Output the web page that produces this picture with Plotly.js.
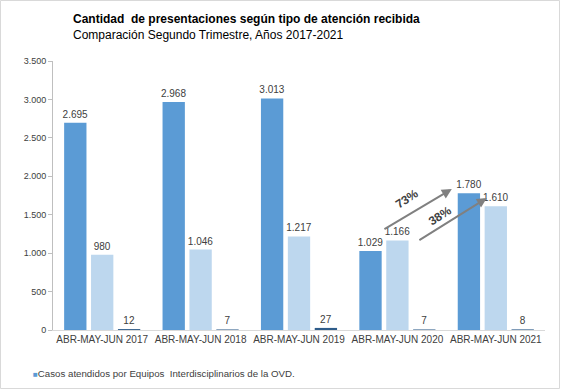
<!DOCTYPE html>
<html><head><meta charset="utf-8">
<script src="https://cdn.plot.ly/plotly-3.0.1.min.js"></script>
<style>body{margin:0;padding:0;background:#fff}#c{width:561px;height:389px}</style>
</head><body><div id="c"></div>
<script>
var categories = ["ABR-MAY-JUN 2017","ABR-MAY-JUN 2018","ABR-MAY-JUN 2019","ABR-MAY-JUN 2020","ABR-MAY-JUN 2021"];
var casosOVD = [2695, 2968, 3013, 1029, 1780];
var serie2 = [980, 1046, 1217, 1166, 1610];
var serie3 = [12, 7, 27, 7, 8];
var yTicks = [0,500,1000,1500,2000,2500,3000,3500];
var pctLabels = ["73%","38%"];
var legendName = "Casos atendidos por Equipos  Interdisciplinarios de la OVD.";

var FF = "Liberation Sans, Arial, sans-serif";
var txtFont = {family:FF, size:10, color:"#404040"};
function bar(name, y, color){
  return {type:"bar", name:name, x:categories, y:y, marker:{color:color},
    text:y.map(function(v){return v.toLocaleString("de-DE");}), textposition:"outside",
    textfont:txtFont, constraintext:"none", cliponaxis:false, showlegend:false, hoverinfo:"skip"};
}
var data = [
  bar(legendName, casosOVD, "#5B9BD5"),
  bar("Serie 2", serie2, "#BDD7EE"),
  bar("Serie 3", serie3, "#2E5C8A")
];
var layout = {
  width:561, height:389, separators:",.",
  margin:{l:53, r:16, t:61, b:59, autoexpand:false},
  paper_bgcolor:"#fff", plot_bgcolor:"#fff",
  font:{family:FF, size:10, color:"#404040"},
  barmode:"group", bargap:0.18, bargroupgap:0.17,
  xaxis:{type:"category", showline:true, linecolor:"#D9D9D9", linewidth:1, ticks:"",
    tickfont:{size:10, color:"#404040"}, showgrid:false, fixedrange:true},
  yaxis:{range:[0,3500], tickvals:yTicks, ticktext:yTicks.map(function(v){return v.toLocaleString("de-DE");}),
    showline:true, linecolor:"#BFBFBF", ticks:"outside", ticklen:4, tickcolor:"#BFBFBF",
    showgrid:false, zeroline:false, tickfont:{size:9, color:"#404040"}, fixedrange:true},
  showlegend:false,
  annotations:[
    {xref:"paper", yref:"paper", x:(71-53)/492, y:1+(61-19)/269, xanchor:"left", yanchor:"middle", showarrow:false,
     text:"<b>Cantidad  de presentaciones según tipo de atención recibida</b>", font:{size:12, color:"#000"}},
    {xref:"paper", yref:"paper", x:(71-53)/492, y:1+(61-35)/269, xanchor:"left", yanchor:"middle", showarrow:false,
     text:"Comparación Segundo Trimestre, Años 2017-2021", font:{size:12, color:"#000"}},
    {xref:"paper", yref:"paper", x:(31-53)/492, y:-(373-330)/269, xanchor:"left", yanchor:"middle", showarrow:false,
     text:"<span style='color:#5B9BD5;font-size:8px'>■</span>"+legendName, font:{size:9.7, color:"#404040"}},
    {xref:"x", yref:"y", axref:"x", ayref:"y", x:3.553, y:1834, ax:2.853, ay:1301,
     showarrow:true, arrowhead:2, arrowsize:1, arrowwidth:2, arrowcolor:"#808080", text:""},
    {xref:"x", yref:"y", axref:"x", ayref:"y", x:3.909, y:1717, ax:3.208, ay:1158,
     showarrow:true, arrowhead:2, arrowsize:1, arrowwidth:2, arrowcolor:"#808080", text:""},
    {xref:"x", yref:"y", x:3.096, y:1700, text:"<b>"+pctLabels[0]+"</b>", showarrow:false, textangle:-33,
     font:{size:12, color:"#404040"}},
    {xref:"x", yref:"y", x:3.431, y:1480, text:"<b>"+pctLabels[1]+"</b>", showarrow:false, textangle:-33,
     font:{size:12, color:"#404040"}}
  ],
  shapes:[{type:"rect", xref:"paper", yref:"paper", x0:-52.5/492, x1:1+14.5/492, y0:-58.5/269, y1:1+60.5/269,
    line:{color:"#D9D9D9", width:1}, fillcolor:"rgba(0,0,0,0)", layer:"below"}]
};
Plotly.newPlot("c", data, layout, {displayModeBar:false, staticPlot:true});
</script></body></html>
